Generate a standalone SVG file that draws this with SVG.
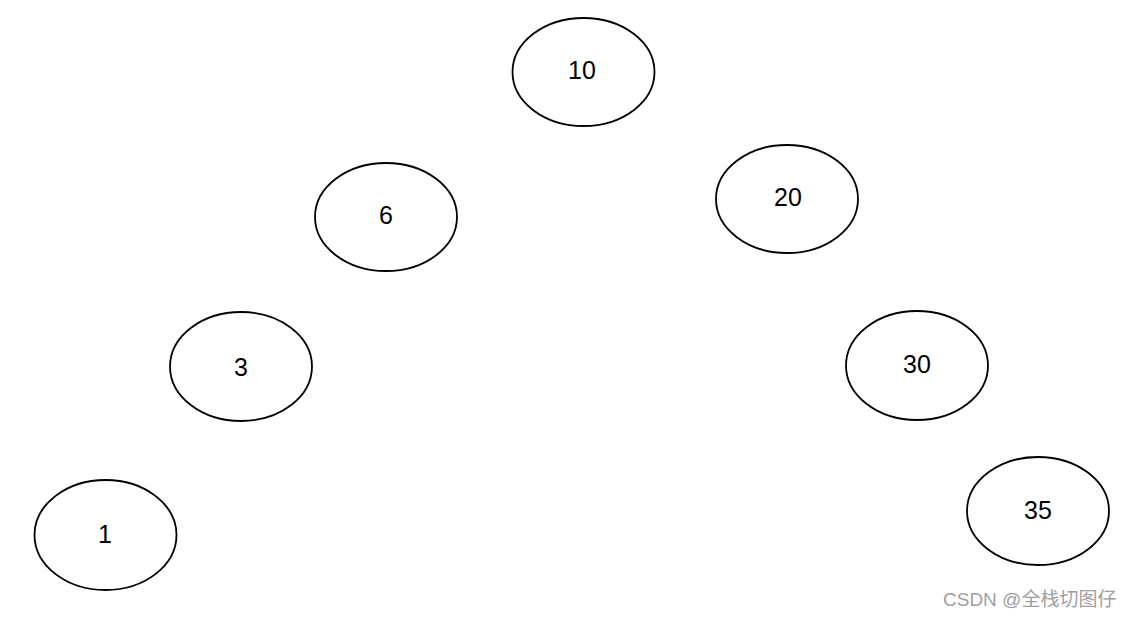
<svg xmlns="http://www.w3.org/2000/svg" width="1130" height="618" viewBox="0 0 1130 618">
<style>
.n ellipse{fill:#fff;stroke:#000;stroke-width:1.8}
.n text{font-family:"Liberation Sans","DejaVu Sans",sans-serif;font-size:25px;fill:#000;text-anchor:middle;dominant-baseline:central}
.wm{font-family:"Liberation Sans","Noto Sans CJK SC",sans-serif;font-size:19px;fill:#a0a0a0}
</style>
<rect width="1130" height="618" fill="#fff"/>
<g id="connectors"></g>
<g id="n10" class="n"><ellipse cx="583.5" cy="72" rx="71" ry="54"/><text x="582" y="70">10</text></g>
<g id="n6" class="n"><ellipse cx="386" cy="217" rx="71" ry="54"/><text x="386" y="215">6</text></g>
<g id="n20" class="n"><ellipse cx="787" cy="199" rx="71" ry="54"/><text x="788" y="197">20</text></g>
<g id="n3" class="n"><ellipse cx="241" cy="366.5" rx="71" ry="54.5"/><text x="241" y="367">3</text></g>
<g id="n30" class="n"><ellipse cx="917" cy="365.5" rx="71" ry="54.5"/><text x="917" y="364">30</text></g>
<g id="n1" class="n"><ellipse cx="105.5" cy="535" rx="71" ry="55"/><text x="105" y="534">1</text></g>
<g id="n35" class="n"><ellipse cx="1038" cy="511" rx="71" ry="54"/><text x="1038" y="510">35</text></g>
<text class="wm" x="943" y="606">CSDN @全栈切图仔</text>
</svg>
